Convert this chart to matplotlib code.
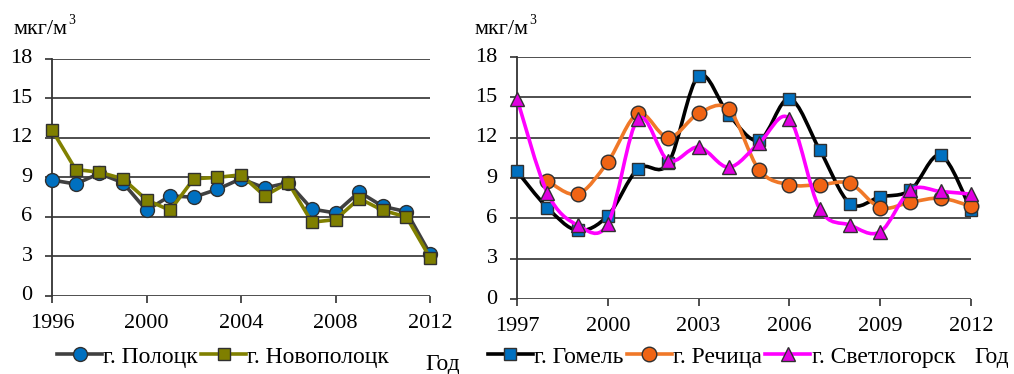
import matplotlib
matplotlib.use("Agg")
import matplotlib.pyplot as plt
import numpy as np
from matplotlib.lines import Line2D
from matplotlib.patches import PathPatch
from matplotlib.path import Path

SERIF = "Liberation Serif"
plt.rcParams.update({"font.family": "serif",
                     "font.serif": [SERIF, "DejaVu Serif"],
                     "font.size": 14})

# ---- data (mkg/m3) ----
years_left = list(range(1996, 2013))
polotsk = [8.8, 8.5, 9.3, 8.6, 6.5, 7.6, 7.5, 8.1, 8.9, 8.2, 8.6, 6.6, 6.3, 7.9, 6.8, 6.4, 3.2]
novopolotsk = [12.6, 9.6, 9.4, 8.9, 7.3, 6.5, 8.9, 9.0, 9.2, 7.6, 8.6, 5.6, 5.8, 7.4, 6.5, 6.0, 2.9]

years_right = list(range(1997, 2013))
gomel = [9.5, 6.8, 5.1, 6.2, 9.7, 10.1, 16.6, 13.7, 11.8, 14.9, 11.1, 7.1, 7.6, 8.1, 10.7, 6.6]
rechitsa_years = list(range(1998, 2013))
rechitsa = [8.8, 7.8, 10.2, 13.8, 12.0, 13.8, 14.1, 9.6, 8.5, 8.5, 8.6, 6.8, 7.2, 7.5, 6.9]
svetlogorsk = [14.9, 7.9, 5.5, 5.6, 13.4, 10.3, 11.3, 9.8, 11.6, 13.4, 6.7, 5.5, 5.0, 8.1, 8.0, 7.8]

yticks = list(range(0, 19, 3))
xticks_left = [1996, 2000, 2004, 2008, 2012]
xticks_right = [1997, 2000, 2003, 2006, 2009, 2012]
UNIT, UNIT_SUP = "мкг/м", "3"


def smooth_path(x, y):
    # Bezier path through the points, like a spreadsheet "smoothed line"
    p = np.column_stack([x, y]).astype(float)
    verts, codes = [p[0]], [Path.MOVETO]
    n = len(p)
    for i in range(n - 1):
        p0 = p[i - 1] if i > 0 else p[i]
        p3 = p[i + 2] if i + 2 < n else p[i + 1]
        c1 = p[i] + (p[i + 1] - p0) / 6
        c2 = p[i + 1] - (p3 - p[i]) / 6
        verts += [c1, c2, p[i + 1]]
        codes += [Path.CURVE4] * 3
    return Path(verts, codes)


def style_axes(ax, xticks):
    ax.set_xlim(xticks[0], xticks[-1])
    ax.set_ylim(0, 18)
    ax.set_yticks(yticks)
    ax.set_xticks(xticks)
    ax.grid(axis="y", color="#404040", lw=1.3)
    ax.set_axisbelow(True)
    for s in ("top", "right", "bottom"):
        ax.spines[s].set_visible(False)
    ax.spines["left"].set_color("#333333")
    ax.spines["left"].set_linewidth(1.3)
    ax.tick_params(length=5, width=1.3, color="#404040",
                   labelbottom=False, labelleft=False)
    # tick labels drawn as serif texts at the tick positions
    for v in xticks:
        ax.annotate(str(v), (v, 0), xycoords=("data", "axes fraction"),
                    xytext=(0, -19.5), textcoords="offset points",
                    ha="center", va="center", fontsize=16, family=SERIF,
                    annotation_clip=False)
    for v in yticks:
        ax.annotate(str(v), (0, v), xycoords=("axes fraction", "data"),
                    xytext=(-14, 0), textcoords="offset points",
                    ha="right", va="center", fontsize=16, family=SERIF,
                    annotation_clip=False)


def unit_label(x, y):
    t = fig.text(x, y, UNIT, fontsize=16, family=SERIF, ha="left", va="center")
    fig.canvas.draw()
    bb = t.get_window_extent().transformed(fig.transFigure.inverted())
    fig.text(bb.x1 + 0.001, y + 0.022, UNIT_SUP, fontsize=10, family=SERIF,
             ha="left", va="center")


fig = plt.figure(figsize=(10.14, 3.74), dpi=100)
ax1 = fig.add_axes([0.0513, 0.2086, 0.3728, 0.634])
ax2 = fig.add_axes([0.5099, 0.2005, 0.4477, 0.647])

# ---- left panel ----
style_axes(ax1, xticks_left)
kw = dict(lw=2.6, mec="#303030", mew=1.0, clip_on=False)
ax1.plot(years_left, polotsk, color="#404040", marker="o", ms=10, mfc="#0070C0", zorder=3, **kw)
ax1.plot(years_left, novopolotsk, color="#808000", marker="s", ms=8.5, mfc="#7F7F00", zorder=4, **kw)

# ---- right panel ----
style_axes(ax2, xticks_right)
series_r = [
    (years_right, gomel, "#000000", "s", "#0070C0", 8, "г. Гомель"),
    (rechitsa_years, rechitsa, "#F07828", "o", "#F06414", 10.5, "г. Речица"),
    (years_right, svetlogorsk, "#FF00FF", "^", "#E000E0", 9.5, "г. Светлогорск"),
]
handles_r = []
for i, (xs, ys, lc, mk, mf, ms, lab) in enumerate(series_r):
    ax2.add_patch(PathPatch(smooth_path(xs, ys), fill=False, ec=lc, lw=2.6,
                            zorder=3 + i, clip_on=False))
    ax2.plot(xs, ys, ls="none", marker=mk, ms=ms, mfc=mf, mec="#303030", mew=1.0,
             zorder=3 + i, clip_on=False)
    handles_r.append(Line2D([], [], color=lc, lw=2.6, marker=mk, ms=ms, mfc=mf,
                            mec="#303030", mew=1.0, label=lab))

# ---- unit labels ----
unit_label(0.013, 0.922)
unit_label(0.468, 0.922)

# ---- legends ----
handles_l = [
    Line2D([], [], color="#404040", lw=2.6, marker="o", ms=10, mfc="#0070C0",
           mec="#303030", mew=1.0, label="г. Полоцк"),
    Line2D([], [], color="#808000", lw=2.6, marker="s", ms=8.5, mfc="#7F7F00",
           mec="#303030", mew=1.0, label="г. Новополоцк"),
]
leg_kw = dict(frameon=False, ncol=3, handlelength=1.9, handletextpad=0.05,
              columnspacing=0.15, prop={"family": SERIF, "size": 17},
              borderaxespad=0, loc="lower left")
fig.legend(handles=handles_l, bbox_to_anchor=(0.047, -0.008), **leg_kw)
fig.legend(handles=handles_r, bbox_to_anchor=(0.472, -0.008), **leg_kw)

fig.text(0.419, 0.025, "Год", fontsize=17, family=SERIF, ha="left", va="center")
fig.text(0.961, 0.045, "Год", fontsize=17, family=SERIF, ha="left", va="center")

fig.savefig("out.png", dpi=100)
